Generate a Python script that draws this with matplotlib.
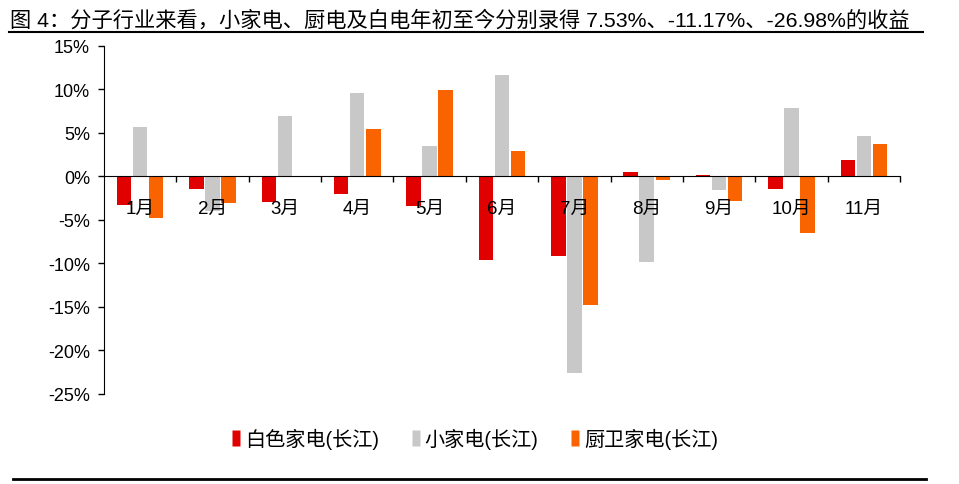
import numpy as np
import matplotlib
matplotlib.use('Agg')
import matplotlib.pyplot as plt
from matplotlib.lines import Line2D
from matplotlib.markers import MarkerStyle

plt.rcParams['font.family'] = ['Liberation Sans', 'Noto Sans CJK SC']
plt.rcParams['axes.unicode_minus'] = False

months = ['1月', '2月', '3月', '4月', '5月', '6月', '7月', '8月', '9月', '10月', '11月']
white_goods = [-3.25, -1.45, -2.95, -2.0, -3.4, -9.6, -9.1, 0.5, 0.2, -1.4, 1.85]
small_appl = [5.65, -4.0, 6.9, 9.6, 3.5, 11.7, -22.6, -9.8, -1.55, 7.9, 4.6]
kitchen = [-4.8, -3.0, 0.1, 5.5, 9.95, 2.9, -14.8, -0.45, -2.85, -6.5, 3.7]
series_names = ['白色家电(长江)', '小家电(长江)', '厨卫家电(长江)']
yticks = [15, 10, 5, 0, -5, -10, -15, -20, -25]

colors = ['#E00000', '#C8C8C8', '#FA6400']

fig = plt.figure(figsize=(9.59, 4.85), dpi=100)
ax = fig.add_axes([0.1084, 0.1856, 0.8301, 0.7175])

x = np.arange(len(months))
w = 0.2
step = 0.222
for k, vals in enumerate([white_goods, small_appl, kitchen]):
    ax.bar(x + (k - 1) * step, vals, width=w, color=colors[k],
           label=series_names[k], zorder=2)

ax.set_xlim(-0.5, len(months) - 0.5)
ax.set_ylim(-25, 15)
ax.set_yticks(yticks)
ax.set_yticklabels(['%d%%' % v for v in yticks], fontsize=13)
ax.tick_params(axis='y', direction='out', length=4, width=1, pad=6)

ax.spines['top'].set_visible(False)
ax.spines['right'].set_visible(False)
ax.spines['bottom'].set_position(('data', 0))
ax.spines['bottom'].set_zorder(3)

ax.set_xticks(x)
ax.set_xticklabels(months, fontsize=13.5)
ax.set_xticks(np.arange(0.5, len(months), 1.0), minor=True)
ax.tick_params(axis='x', which='major', length=0, pad=17)
ax.tick_params(axis='x', which='minor', direction='out', length=4, width=1)
ax.xaxis.set_zorder(5)

# legend with narrow upright rectangle markers
rect = MarkerStyle([(-0.25, -0.5), (0.25, -0.5), (0.25, 0.5), (-0.25, 0.5), (-0.25, -0.5)])
handles = [Line2D([0], [0], marker=rect, linestyle='none', markersize=12,
                  markerfacecolor=c, markeredgecolor='none') for c in colors]
fig.legend(handles, series_names, loc='center', bbox_to_anchor=(0.495, 0.093),
           ncol=3, frameon=False, fontsize=14.5, handlelength=0.5,
           handletextpad=0.2, columnspacing=1.55)

fig.text(0.010, 0.957,
         '图 4：分子行业来看，小家电、厨电及白电年初至今分别录得 7.53%、-11.17%、-26.98%的收益',
         fontsize=15.3, ha='left', va='center')
fig.add_artist(Line2D([0.009, 0.962], [0.932, 0.932], color='black', lw=1.5))
fig.add_artist(Line2D([0.014, 0.966], [0.010, 0.010], color='black', lw=2))

fig.savefig('out.png', dpi=100)
